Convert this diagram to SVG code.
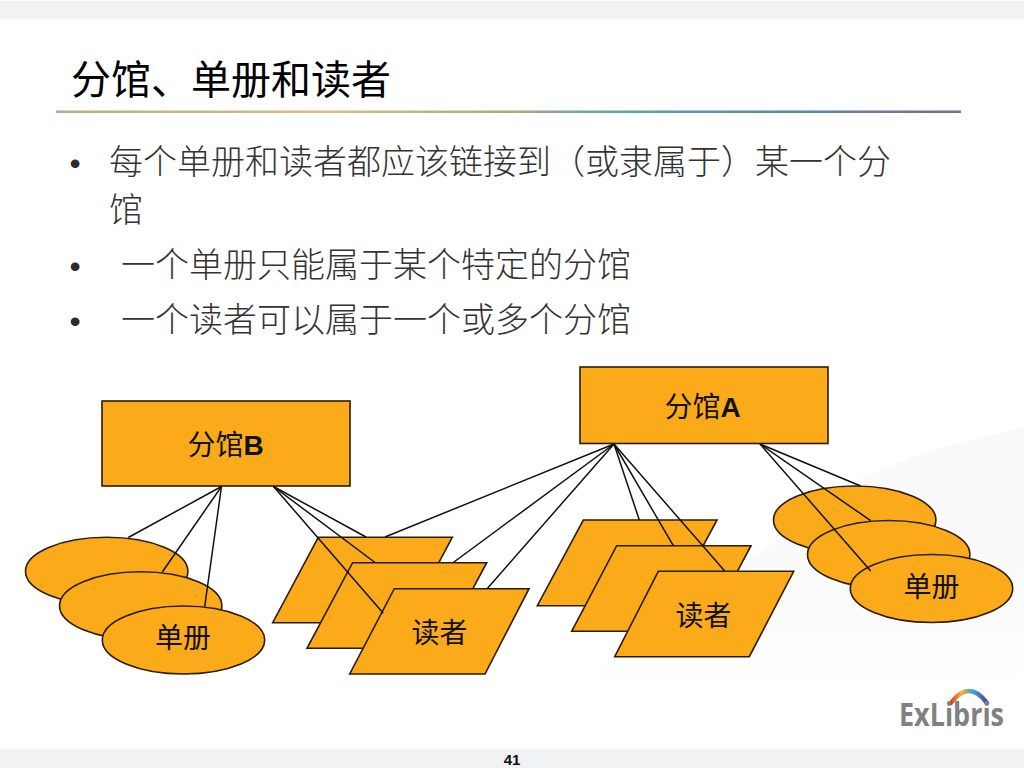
<svg xmlns="http://www.w3.org/2000/svg" width="1024" height="768" viewBox="0 0 1024 768">
<defs>
<style>
.cjk{font-family:"Noto Sans CJK SC","Liberation Sans",sans-serif}
.title{font-size:40px;fill:#000;font-weight:400}
.body{font-size:34px;fill:#333;font-weight:300}
.bul{font-family:"Liberation Sans",sans-serif;font-size:32px;fill:#2c2c2c}
.lab{font-size:28px;fill:#111}
.lab tspan{font-family:"Liberation Sans",sans-serif;font-weight:700}
.shape{fill:#fbaa19;stroke:#2a1c06;stroke-width:1.6}
#connectors line{stroke:#111;stroke-width:1.5}
</style>
<linearGradient id="rule" x1="0" x2="1" y1="0" y2="0">
<stop offset="0" stop-color="#bda98a"/><stop offset="0.3" stop-color="#d6c084"/><stop offset="0.5" stop-color="#a9ab80"/><stop offset="0.62" stop-color="#5ca6a4"/><stop offset="0.82" stop-color="#5d86a6"/><stop offset="1" stop-color="#7d6a98"/>
</linearGradient>
<linearGradient id="arc" x1="0" x2="1" y1="0" y2="0">
<stop offset="0" stop-color="#e0402c"/><stop offset="0.3" stop-color="#f2b234"/><stop offset="0.62" stop-color="#2fa6d4"/><stop offset="1" stop-color="#5a3f9c"/>
</linearGradient>
<linearGradient id="swoosh" x1="0" x2="0" y1="0" y2="1">
<stop offset="0" stop-color="#f9f9f9"/><stop offset="0.7" stop-color="#fbfbfb"/><stop offset="1" stop-color="#fff"/>
</linearGradient>
</defs>
<rect width="1024" height="768" fill="#fff"/>
<path d="M1024 428 Q930 445 860 480 L570 690 L1024 690 Z" fill="url(#swoosh)"/>
<rect x="0" y="1" width="1024" height="18" fill="#f1f2f4"/>
<rect x="0" y="749" width="1024" height="19" fill="#f1f2f4"/>
<rect x="56" y="110.500" width="905" height="2.500" fill="url(#rule)"/>
<text class="cjk title" x="71" y="94">分馆、单册和读者</text>
<g id="bullets">
<text class="bul" x="69.500" y="174">•</text>
<text class="cjk body" x="109" y="174">每个单册和读者都应该链接到（或隶属于）某一个分</text>
<text class="cjk body" x="109" y="222">馆</text>
<text class="bul" x="69.500" y="277">•</text>
<text class="cjk body" x="121" y="277">一个单册只能属于某个特定的分馆</text>
<text class="bul" x="69.500" y="332">•</text>
<text class="cjk body" x="121" y="332">一个读者可以属于一个或多个分馆</text>
</g>
<g id="branch-b"><rect class="shape" x="102" y="401" width="248" height="85"/><text class="cjk lab" x="187.500" y="455">分馆<tspan>B</tspan></text></g>
<g id="branch-a"><rect class="shape" x="580" y="367" width="248" height="76.500"/><text class="cjk lab" x="664.500" y="417">分馆<tspan>A</tspan></text></g>
<g id="item-b1"><ellipse class="shape" cx="106.700" cy="571.300" rx="81.200" ry="34"/></g>
<g id="item-b2"><ellipse class="shape" cx="140.700" cy="605.700" rx="81.200" ry="34"/></g>
<g id="item-b3"><ellipse class="shape" cx="183.500" cy="640" rx="81.200" ry="34"/><text class="cjk lab" x="183" y="648" text-anchor="middle">单册</text></g>
<g id="item-a1"><ellipse class="shape" cx="854.700" cy="520" rx="81.200" ry="34"/></g>
<g id="item-a2"><ellipse class="shape" cx="888.700" cy="554.500" rx="81.200" ry="34"/></g>
<g id="item-a3"><ellipse class="shape" cx="931.500" cy="588.500" rx="81.200" ry="34"/><text class="cjk lab" x="931.500" y="597" text-anchor="middle">单册</text></g>
<g id="patron-b1"><polygon class="shape" points="318.300,537.300 452.300,537.300 406.700,622.700 272.700,622.700"/></g>
<g id="patron-b2"><polygon class="shape" points="352.600,562.700 486.700,562.700 441,648.300 307,648.300"/></g>
<g id="patron-b3"><polygon class="shape" points="394.300,588.700 529,588.700 485,674 349.700,674"/><text class="cjk lab" x="439.500" y="643" text-anchor="middle">读者</text></g>
<g id="patron-a1"><polygon class="shape" points="583.300,520 717,520 671,605.700 537.300,605.700"/></g>
<g id="patron-a2"><polygon class="shape" points="616.700,545.700 751,545.700 705.500,631.300 571.700,631.300"/></g>
<g id="patron-a3"><polygon class="shape" points="658.300,571.300 793.700,571.300 749.300,656.700 614.700,656.700"/><text class="cjk lab" x="703.500" y="626" text-anchor="middle">读者</text></g>
<g id="connectors">
<line x1="221.500" y1="486.500" x2="128.300" y2="537.500"/>
<line x1="221.500" y1="486.500" x2="162.300" y2="572"/>
<line x1="221.500" y1="486.500" x2="204.700" y2="606.500"/>
<line x1="273.500" y1="486.500" x2="366" y2="537"/>
<line x1="273.500" y1="486.500" x2="375" y2="562.500"/>
<line x1="273.500" y1="486.500" x2="383.300" y2="613.300"/>
<line x1="614" y1="444" x2="385" y2="537"/>
<line x1="614" y1="444" x2="453.300" y2="562.500"/>
<line x1="614" y1="444" x2="487.300" y2="588.500"/>
<line x1="614" y1="444" x2="639.300" y2="520"/>
<line x1="614" y1="444" x2="673.300" y2="545.700"/>
<line x1="614" y1="444" x2="724.700" y2="571"/>
<line x1="760" y1="444" x2="860.700" y2="486"/>
<line x1="760" y1="444" x2="870.700" y2="520.700"/>
<line x1="760" y1="444" x2="870.700" y2="571"/>
</g>
<g id="logo">
<path d="M951 703 Q969 679 987 703" fill="none" stroke="url(#arc)" stroke-width="4.500" stroke-linecap="round"/>
<text x="899" y="726" font-family="'Open Sans',sans-serif" font-size="32" font-weight="700" fill="#7f8183" textLength="105" lengthAdjust="spacingAndGlyphs">ExLibris</text>
</g>
<text x="512" y="765" text-anchor="middle" font-family="'Liberation Sans',sans-serif" font-size="15" font-weight="700" fill="#111">41</text>
</svg>
